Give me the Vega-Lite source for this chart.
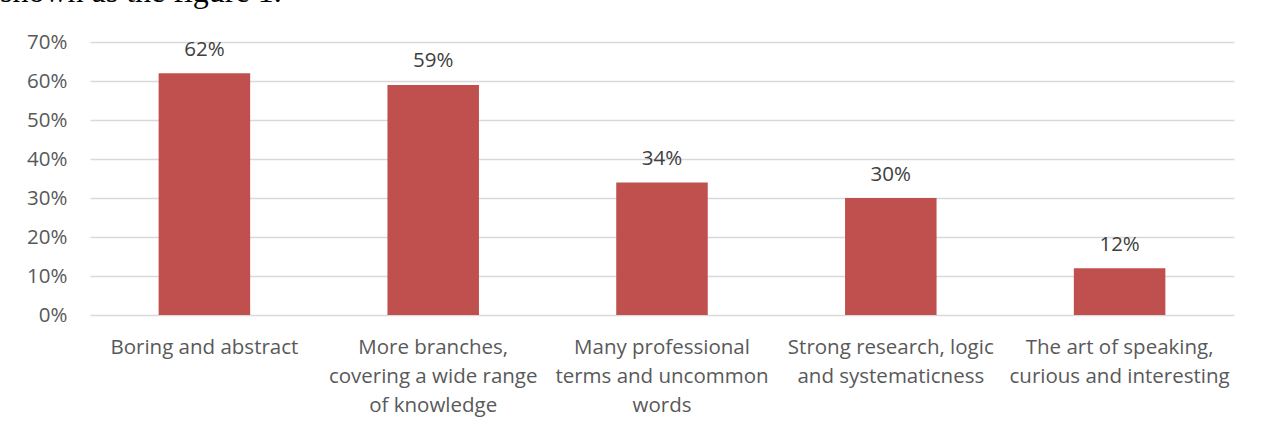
{
  "$schema": "https://vega.github.io/schema/vega-lite/v6.json",
  "autosize": "none",
  "width": 1144,
  "height": 273,
  "padding": {"left": 90, "top": 42, "right": 28, "bottom": 112},
  "background": "white",
  "title": {
    "text": "shown as the figure 1.",
    "font": "Liberation Serif",
    "fontSize": 32,
    "fontWeight": "normal",
    "color": "#000000",
    "anchor": "start",
    "frame": "group",
    "baseline": "alphabetic",
    "dx": -90,
    "offset": 0,
    "dy": 2
  },
  "data": {
    "values": [
      {"category": "Boring and abstract", "value": 0.62},
      {"category": "More branches,|covering a wide range|of knowledge", "value": 0.59},
      {"category": "Many professional|terms and uncommon|words", "value": 0.34},
      {"category": "Strong research, logic|and systematicness", "value": 0.30},
      {"category": "The art of speaking,|curious and interesting", "value": 0.12}
    ]
  },
  "encoding": {
    "x": {
      "field": "category",
      "type": "nominal",
      "sort": null,
      "scale": {"paddingInner": 0.6, "paddingOuter": 0.3},
      "axis": {
        "title": null,
        "labelAngle": 0,
        "labelExpr": "split(datum.label, '|')",
        "labelFont": "Open Sans",
        "labelFontSize": 20.5,
        "labelColor": "#595959",
        "labelLineHeight": 29,
        "labelPadding": 22,
        "labelBaseline": "top",
        "ticks": false,
        "domain": false,
        "labelLimit": 300
      }
    },
    "y": {
      "field": "value",
      "type": "quantitative",
      "scale": {"domain": [0, 0.7], "nice": false},
      "axis": {
        "title": null,
        "format": ".0%",
        "values": [0, 0.1, 0.2, 0.3, 0.4, 0.5, 0.6, 0.7],
        "labelFont": "Open Sans",
        "labelFontSize": 20.5,
        "labelColor": "#595959",
        "labelPadding": 23,
        "ticks": false,
        "domain": false,
        "grid": true,
        "gridColor": "#D9D9D9",
        "gridWidth": 1.5
      }
    }
  },
  "layer": [
    {"mark": {"type": "bar", "color": "#C0504D"}},
    {
      "mark": {"type": "text", "baseline": "bottom", "dy": -13.5, "font": "Open Sans", "fontSize": 20.5, "color": "#404040"},
      "encoding": {"text": {"field": "value", "type": "quantitative", "format": ".0%"}}
    }
  ],
  "config": {"view": {"stroke": null}}
}
